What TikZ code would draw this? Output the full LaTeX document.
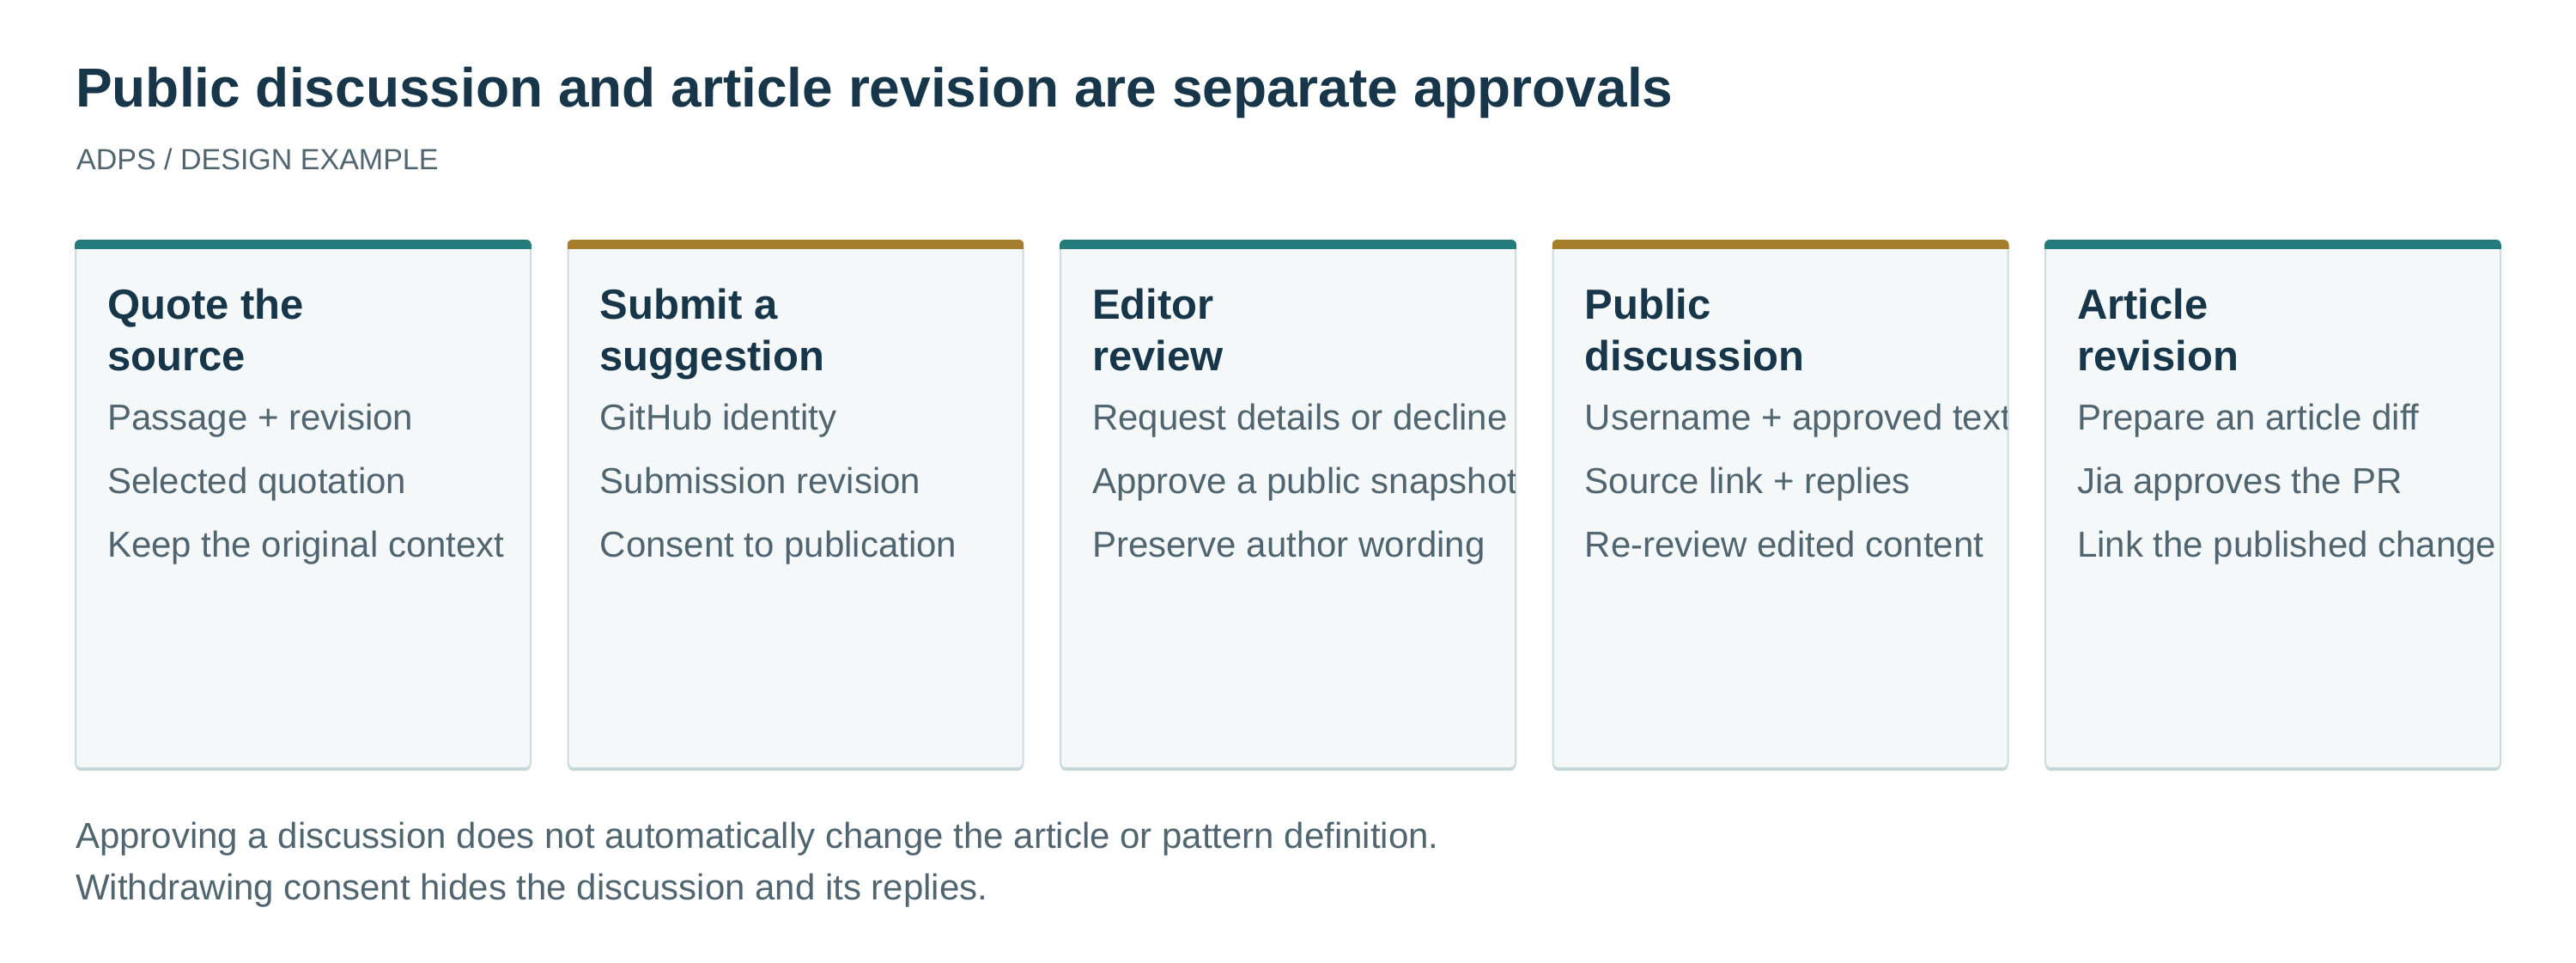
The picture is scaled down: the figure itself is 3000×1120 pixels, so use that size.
\documentclass[tikz,border=0pt]{standalone}
\usepackage{fontspec}
\setmainfont{Liberation Sans}
\definecolor{inkdark}{HTML}{17364A}
\definecolor{inkgrey}{HTML}{50656F}
\definecolor{accentteal}{HTML}{237C7B}
\definecolor{accentgold}{HTML}{A67D2A}
\definecolor{cardfill}{HTML}{F4F8F9}
\definecolor{cardedge}{HTML}{CCDCDF}
\definecolor{cardshade}{HTML}{C3D4D7}
\tikzset{
  cardshadow/.style={fill=cardshade, rounded corners=6pt},
  cardbox/.style={fill=cardfill, draw=cardedge, line width=2pt, rounded corners=6pt},
  cardhead/.style={anchor=base west, inner sep=0pt, text=inkdark,
    font=\fontsize{49}{60}\selectfont\bfseries},
  cardtext/.style={anchor=base west, inner sep=0pt, text=inkgrey,
    font=\fontsize{42}{50}\selectfont},
  pagetext/.style={anchor=base west, inner sep=0pt, text=inkgrey,
    font=\fontsize{42}{50}\selectfont}
}
\begin{document}
\begin{tikzpicture}[x=1pt,y=-1pt]
    \useasboundingbox[fill=white] (0,0) rectangle (3000,1120);
    \node[anchor=base west, inner sep=0pt, text=inkdark, font=\fontsize{64}{70}\selectfont\bfseries]
      (title) at (88,124) {Public discussion and article revision are separate approvals};
    \node[anchor=base west, inner sep=0pt, text=inkgrey, font=\fontsize{34}{40}\selectfont]
      (subtitle) at (89,197) {ADPS / DESIGN EXAMPLE};
    % card 1
    \begin{scope}[shift={(88,280)}]
    \fill[cardshadow] (0,3) rectangle (530,617); \path[cardbox] (0,0) rectangle (530,614);
    \begin{scope} \clip[rounded corners=6pt] (-1,-1) rectangle (531,614); \fill[accentteal] (-1,-1) rectangle (531,10); \end{scope}
    \begin{scope} \clip (0,0) rectangle (529,614);
    \node[cardhead] (quote1) at (37,91) {Quote the}; \node[cardhead] (quote2) at (37,151) {source};
    \node[cardtext] (quotea) at (37,220) {Passage + revision};
    \node[cardtext] (quoteb) at (37,294) {Selected quotation};
    \node[cardtext] (quotec) at (37,368) {Keep the original context};
    \end{scope}
    \end{scope}
    % card 2
    \begin{scope}[shift={(661.5,280)}]
    \fill[cardshadow] (0,3) rectangle (530,617); \path[cardbox] (0,0) rectangle (530,614);
    \begin{scope} \clip[rounded corners=6pt] (-1,-1) rectangle (531,614); \fill[accentgold] (-1,-1) rectangle (531,10); \end{scope}
    \begin{scope} \clip (0,0) rectangle (529,614);
    \node[cardhead] (submit1) at (37,91) {Submit a}; \node[cardhead] (submit2) at (37,151) {suggestion};
    \node[cardtext] (submita) at (37,220) {GitHub identity};
    \node[cardtext] (submitb) at (37,294) {Submission revision};
    \node[cardtext] (submitc) at (37,368) {Consent to publication};
    \end{scope}
    \end{scope}
    % card 3
    \begin{scope}[shift={(1235,280)}]
    \fill[cardshadow] (0,3) rectangle (530,617); \path[cardbox] (0,0) rectangle (530,614);
    \begin{scope} \clip[rounded corners=6pt] (-1,-1) rectangle (531,614); \fill[accentteal] (-1,-1) rectangle (531,10); \end{scope}
    \begin{scope} \clip (0,0) rectangle (529,614);
    \node[cardhead] (editor1) at (37,91) {Editor}; \node[cardhead] (editor2) at (37,151) {review};
    \node[cardtext] (editora) at (37,220) {Request details or decline};
    \node[cardtext] (editorb) at (37,294) {Approve a public snapshot};
    \node[cardtext] (editorc) at (37,368) {Preserve author wording};
    \end{scope}
    \end{scope}
    % card 4
    \begin{scope}[shift={(1808.5,280)}]
    \fill[cardshadow] (0,3) rectangle (530,617); \path[cardbox] (0,0) rectangle (530,614);
    \begin{scope} \clip[rounded corners=6pt] (-1,-1) rectangle (531,614); \fill[accentgold] (-1,-1) rectangle (531,10); \end{scope}
    \begin{scope} \clip (0,0) rectangle (529,614);
    \node[cardhead] (public1) at (37,91) {Public}; \node[cardhead] (public2) at (37,151) {discussion};
    \node[cardtext] (publica) at (37,220) {Username + approved text};
    \node[cardtext] (publicb) at (37,294) {Source link + replies};
    \node[cardtext] (publicc) at (37,368) {Re-review edited content};
    \end{scope}
    \end{scope}
    % card 5
    \begin{scope}[shift={(2382,280)}]
    \fill[cardshadow] (0,3) rectangle (530,617); \path[cardbox] (0,0) rectangle (530,614);
    \begin{scope} \clip[rounded corners=6pt] (-1,-1) rectangle (531,614); \fill[accentteal] (-1,-1) rectangle (531,10); \end{scope}
    \begin{scope} \clip (0,0) rectangle (529,614);
    \node[cardhead] (article1) at (37,91) {Article}; \node[cardhead] (article2) at (37,151) {revision};
    \node[cardtext] (articlea) at (37,220) {Prepare an article diff};
    \node[cardtext] (articleb) at (37,294) {Jia approves the PR};
    \node[cardtext] (articlec) at (37,368) {Link the published change};
    \end{scope}
    \end{scope}
    \node[pagetext] (note1) at (88,987) {Approving a discussion does not automatically change the article or pattern definition.};
    \node[pagetext] (note2) at (88,1047) {Withdrawing consent hides the discussion and its replies.};
\end{tikzpicture}
\end{document}
